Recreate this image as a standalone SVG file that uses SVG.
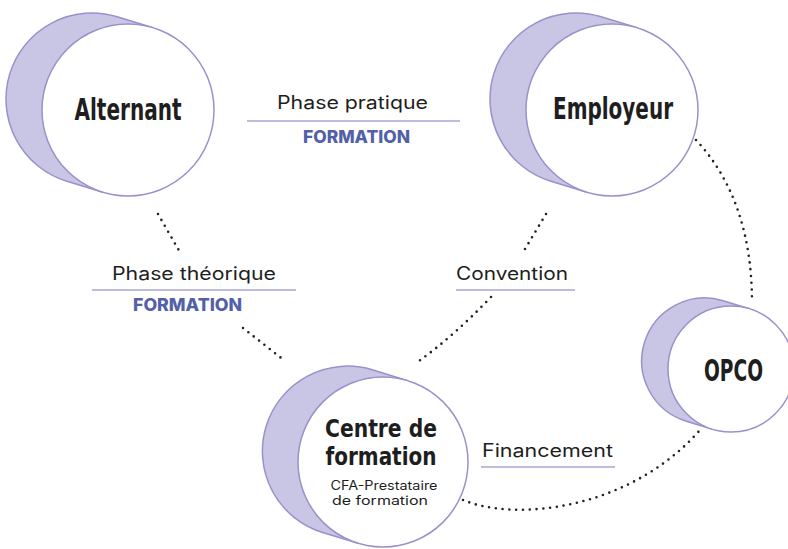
<svg xmlns="http://www.w3.org/2000/svg" width="788" height="549" viewBox="0 0 788 549">
<style>
.back{fill:#c9c5e4;stroke:#9991cc;stroke-width:1.5;stroke-linejoin:round}
.front{fill:#ffffff;stroke:#9991cc;stroke-width:1.5}
.title{font-family:"Liberation Sans Narrow","DejaVu Sans Condensed","Liberation Sans",sans-serif;font-weight:bold;font-size:30px;fill:#1e1e1e;text-anchor:middle}
.small{font-size:25px}
.sub{font-family:"Inter","Liberation Sans",sans-serif;font-size:12.5px;fill:#1e1e1e;text-anchor:middle}
.lbl{font-family:"Inter","Liberation Sans",sans-serif;font-size:18px;fill:#1e1e1e}
.form{font-family:"Inter","Liberation Sans",sans-serif;font-weight:800;font-size:17px;fill:#5260a8}
.rule{stroke:#aaa5d5;stroke-width:1.6;fill:none}
.dot{fill:none;stroke:#222222;stroke-width:2.6;stroke-linecap:round;stroke-dasharray:0 6.8}
</style>
<rect width="788" height="549" fill="#ffffff"/>
<g id="connectors">
<path class="dot" d="M158,214 L181,254"/>
<path class="dot" d="M243,328 L285,361"/>
<path class="dot" d="M546,214 L522,254"/>
<path class="dot" d="M491,297 Q455,335 419,361"/>
<path class="dot" d="M696,140 Q752,200 752,303"/>
<path class="dot" d="M463,500 C515,522 630,510 700,430"/>
</g>
<g id="labels">
<text class="lbl" x="277" y="109" textLength="151" lengthAdjust="spacingAndGlyphs">Phase pratique</text>
<line class="rule" x1="247" y1="121" x2="460" y2="121"/>
<text class="form" x="303" y="143" textLength="107" lengthAdjust="spacingAndGlyphs">FORMATION</text>
<text class="lbl" x="112" y="280" textLength="164" lengthAdjust="spacingAndGlyphs">Phase théorique</text>
<line class="rule" x1="92" y1="290" x2="296" y2="290"/>
<text class="form" x="133" y="311" textLength="109" lengthAdjust="spacingAndGlyphs">FORMATION</text>
<text class="lbl" x="456" y="280" textLength="112" lengthAdjust="spacingAndGlyphs">Convention</text>
<line class="rule" x1="456" y1="290" x2="575" y2="290"/>
<text class="lbl" x="482" y="457" textLength="131" lengthAdjust="spacingAndGlyphs">Financement</text>
<line class="rule" x1="481" y1="467" x2="615" y2="467"/>
</g>
<g id="alternant">
<path class="back" d="M117.13,16.75 L153.13,27.75 L102.87,192.25 L66.87,181.25 A86,86 0 0,1 117.13,16.75 Z"/>
<circle class="front" cx="128" cy="110" r="86"/>
<text class="title" x="128" y="120" textLength="107" lengthAdjust="spacingAndGlyphs">Alternant</text>
</g>
<g id="employeur">
<path class="back" d="M601.13,16.75 L637.13,27.75 L586.87,192.25 L550.87,181.25 A86,86 0 0,1 601.13,16.75 Z"/>
<circle class="front" cx="612" cy="110" r="86"/>
<text class="title" x="613" y="119" textLength="120" lengthAdjust="spacingAndGlyphs">Employeur</text>
</g>
<g id="centre">
<path class="back" d="M372.26,369.84 L407.84,380.71 L358.16,543.29 L322.58,532.42 A85,85 0 0,1 372.26,369.84 Z"/>
<circle class="front" cx="383" cy="462" r="85"/>
<text class="title small" x="381" y="437" textLength="112" lengthAdjust="spacingAndGlyphs">Centre de</text>
<text class="title small" x="381" y="465" textLength="111" lengthAdjust="spacingAndGlyphs">formation</text>
<text class="sub" x="384" y="490" textLength="107" lengthAdjust="spacingAndGlyphs">CFA-Prestataire</text>
<text class="sub" x="380" y="505" textLength="96" lengthAdjust="spacingAndGlyphs">de formation</text>
</g>
<g id="opco">
<path class="back" d="M723.04,300.69 L749.41,308.75 L712.59,429.25 L686.22,421.19 A63,63 0 0,1 723.04,300.69 Z"/>
<circle class="front" cx="731" cy="369" r="63"/>
<text class="title" x="733.5" y="381" textLength="59" lengthAdjust="spacingAndGlyphs">OPCO</text>
</g>
</svg>
